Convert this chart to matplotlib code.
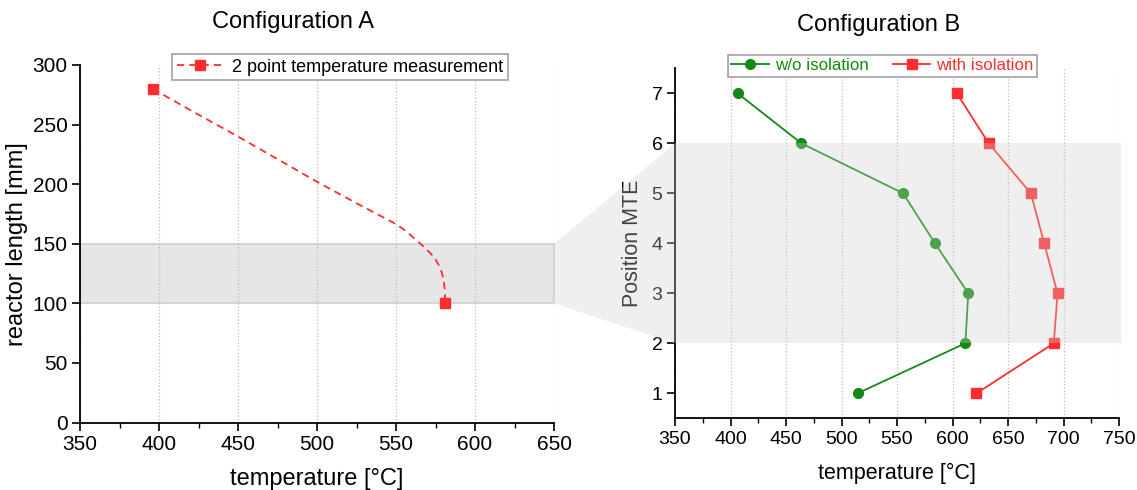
import numpy as np
import matplotlib
matplotlib.use("Agg")
import matplotlib.pyplot as plt
from matplotlib.patches import Polygon
from matplotlib.ticker import MultipleLocator

plt.rcParams["font.family"] = ["Liberation Sans", "DejaVu Sans"]

# Configuration A: two thermocouples, curve traced between them
meas_temp = [396, 581]
meas_len = [280, 100]
curve_temp = [396, 420, 450, 475, 500, 525, 540, 550, 556, 562, 568, 574,
              578, 580, 581, 581]
curve_len = [280, 262, 240, 221, 202, 184, 173.5, 166.5, 161, 154, 147, 139,
             130, 121, 110, 100]

# Configuration B: multi-thermocouple (MTE) positions
positions = [1, 2, 3, 4, 5, 6, 7]
temp_no_iso = [514.5, 611.6, 614.2, 584.2, 555.5, 463.8, 406.4]
temp_iso = [621.6, 691.3, 694.6, 682.6, 670.6, 632.6, 603.9]

zoom_a = (100, 150)   # reactor length range [mm]
zoom_b = (2, 6)       # MTE position range

red = "#ff2d2d"
green = "#138a13"
band_col = "#d0d0d0"
band_alpha = 0.32

fig = plt.figure(figsize=(11.37, 4.9), dpi=100)
axA = fig.add_axes([80 / 1137, 1 - 422.5 / 490, 474 / 1137, 357.5 / 490])
axB = fig.add_axes([675 / 1137, 1 - 418.3 / 490, 444 / 1137, 350 / 490])

for ax in (axA, axB):
    ax.spines["top"].set_visible(False)
    ax.spines["right"].set_visible(False)
    for s in ("left", "bottom"):
        ax.spines[s].set_linewidth(1.3)
    ax.xaxis.set_major_locator(MultipleLocator(50))
    ax.xaxis.set_minor_locator(MultipleLocator(25))
    ax.tick_params(which="major", direction="out", length=6, width=1.2, pad=3)
    ax.tick_params(which="minor", direction="out", length=3.5, width=1.0)
    ax.grid(True, axis="x", linestyle=":", color="#bdbdbd", linewidth=0.9)

# --- left panel
axA.fill_between([350, 650], zoom_a[0], zoom_a[1], facecolor="#e6e6e6",
                 edgecolor="#d0d0d0", linewidth=1.2, zorder=0.3)
axA.plot(curve_temp, curve_len, color=red, linewidth=1.3,
         linestyle=(0, (4, 2.8)), zorder=2)
axA.plot(meas_temp, meas_len, linestyle="none", marker="s", markersize=6.5,
         color=red, zorder=3)
axA.set_xlim(350, 650)
axA.set_ylim(0, 300)
axA.yaxis.set_major_locator(MultipleLocator(50))
axA.tick_params(labelsize=15)
axA.set_xlabel("temperature [°C]", fontsize=17, labelpad=10)
axA.set_ylabel("reactor length [mm]", fontsize=17, labelpad=3)
axA.get_xgridlines()[-1].set_visible(False)

handleA = plt.Line2D([], [], color=red, linewidth=1.3, linestyle=(0, (4, 2.8)),
                     marker="s", markersize=6.5)
legA = axA.legend([handleA], ["2 point temperature measurement"],
                  loc="upper left", bbox_to_anchor=(172 / 1137, 1 - 54 / 490),
                  bbox_transform=fig.transFigure, fontsize=13, fancybox=False,
                  edgecolor="#9a9a9a", framealpha=1, borderpad=0.25,
                  handlelength=2.6, handletextpad=0.5, borderaxespad=0)
legA.get_frame().set_linewidth(1.1)

# --- right panel
axB.plot(temp_no_iso, positions, color=green, linewidth=1.3, marker="o",
         markersize=7, label="w/o isolation", zorder=2)
axB.plot(temp_iso, positions, color=red, linewidth=1.3, marker="s",
         markersize=6.5, label="with isolation", zorder=2)
axB.fill_between([350, 752], zoom_b[0], zoom_b[1], facecolor=band_col,
                 alpha=band_alpha, linewidth=0, zorder=3, clip_on=False)
axB.set_xlim(350, 750)
axB.set_ylim(0.5, 7.5)
axB.set_yticks(positions)
axB.tick_params(labelsize=14)
axB.set_xlabel("temperature [°C]", fontsize=15.5, labelpad=11)
axB.set_ylabel("Position MTE", fontsize=15.5, labelpad=6)
axB.get_xgridlines()[-1].set_visible(False)

legB = axB.legend(loc="upper left", bbox_to_anchor=(728 / 1137, 1 - 55 / 490),
                  bbox_transform=fig.transFigure, ncol=2, fontsize=12.2,
                  fancybox=False, edgecolor="#9a9a9a", framealpha=1,
                  borderpad=0.2, handlelength=2.2, handletextpad=0.35,
                  columnspacing=1.45, borderaxespad=0)
legB.get_frame().set_linewidth(1.1)
for txt, col in zip(legB.get_texts(), [green, red]):
    txt.set_color(col)

# wedge linking the zoomed range of A to the range of B
top_left, bot_left = axA.transData.transform([(650, zoom_a[1]), (650, zoom_a[0])])
bot_right, top_right = axB.transData.transform([(350, zoom_b[0]), (350, zoom_b[1])])
corners = fig.transFigure.inverted().transform(
    np.array([top_left, bot_left, bot_right, top_right]))
fig.add_artist(Polygon(corners, closed=True, transform=fig.transFigure,
                       facecolor=band_col, alpha=band_alpha, linewidth=0,
                       zorder=1))

fig.text(293 / 1137, 1 - 22 / 490, "Configuration A", fontsize=17,
         ha="center", va="center")
fig.text(879 / 1137, 1 - 25 / 490, "Configuration B", fontsize=17,
         ha="center", va="center")

fig.savefig("out.png", dpi=100)
